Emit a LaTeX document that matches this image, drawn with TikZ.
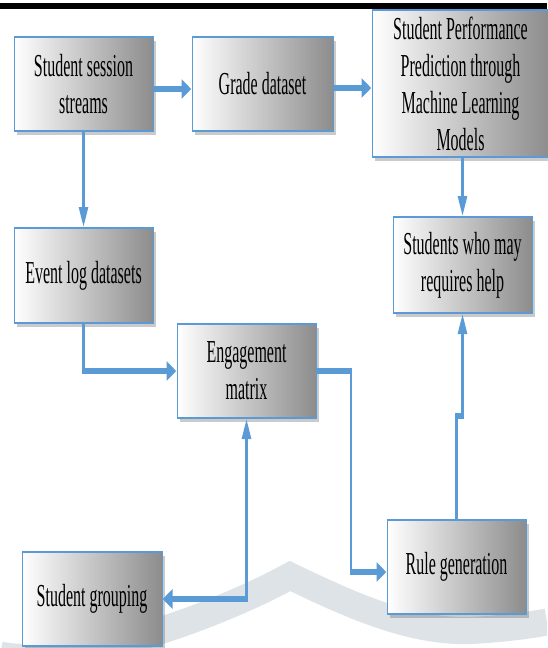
\documentclass[tikz,border=0pt]{standalone}
\usepackage{fontspec}
\setmainfont{Liberation Serif}
\usetikzlibrary{shadows,arrows.meta,calc}
\definecolor{edgeblue}{RGB}{91,155,213}
\definecolor{wmark}{RGB}{222,227,231}
\tikzset{
  box/.style={draw=edgeblue, line width=2pt, left color=white, right color=black!45,
    minimum height=94pt, minimum width=278pt, inner sep=0pt, align=center,
    font=\fontsize{32}{37}\selectfont,
    drop shadow={shadow xshift=6pt, shadow yshift=-4pt, opacity=0.35, fill=black!60}},
  conn/.style={draw=edgeblue, line width=5.5pt, -{Triangle[length=20pt,width=18pt]}},
  biconn/.style={draw=edgeblue, line width=5.5pt, {Triangle[length=20pt,width=18pt]}-{Triangle[length=20pt,width=18pt]}},
}
\begin{document}
\begin{tikzpicture}
\useasboundingbox (0,0) rectangle (547pt,-648pt);
% watermark
\begin{scope}
\clip (0,0) rectangle (547pt,-648pt);
\draw[wmark, line width=27pt, line join=miter] (0pt,-655pt) .. controls (60pt,-668pt) and (200pt,-625pt) .. (290pt,-576pt)
  .. controls (360pt,-610pt) and (420pt,-635pt) .. (480pt,-630pt)
  .. controls (510pt,-628pt) and (530pt,-625pt) .. (547pt,-622pt);
\end{scope}
% top rule
\fill[black] (0,-3pt) rectangle (547pt,-8.5pt);
\begin{scope}[transform canvas={xscale=0.5}, x=2pt, y=-1pt]
\node[box] (b1) at (83.5,84) {Student session\\streams};
\node[box, minimum width=282pt] (b2) at (262.5,84) {Grade dataset};
\node[box, minimum width=354pt, minimum height=147pt] (b3) at (460.5,83.5) {Student Performance\\Prediction through\\Machine Learning\\Models};
\node[box, minimum height=95pt] (b4) at (83.5,275.5) {Event log datasets};
\node[box] (b5) at (246.5,371) {Engagement\\matrix};
\node[box, minimum height=96pt] (b6) at (462.5,265) {Students who may\\requires help};
\node[box] (b7) at (456.5,567) {Rule generation};
\node[box, minimum width=280pt] (b8) at (92,599) {Student grouping};
\coordinate (c1) at (351,371);
\coordinate (j1) at (456.5,416);
\coordinate (j2) at (462.5,416);
\draw[conn] ([yshift=-5pt]b1.east) -- ([yshift=-5pt]b2.west);
\draw[conn] ([yshift=-4pt]b2.east) -- ([yshift=-4pt]b2.east -| b3.west);
\draw[conn] (b1.south) -- (b4.north);
\draw[conn] (b3.south -| b6.north) -- (b6.north);
\draw[conn] (b4.south) |- (b5.west);
\draw[conn] (b5.east) -- (c1) |- ([yshift=-5pt]b7.west);
\draw[conn] (b7.north) -- (j1) -- (j2) -- (b6.south);
\draw[biconn] (b8.east) -| (b5.south);
\end{scope}
\end{tikzpicture}
\end{document}
